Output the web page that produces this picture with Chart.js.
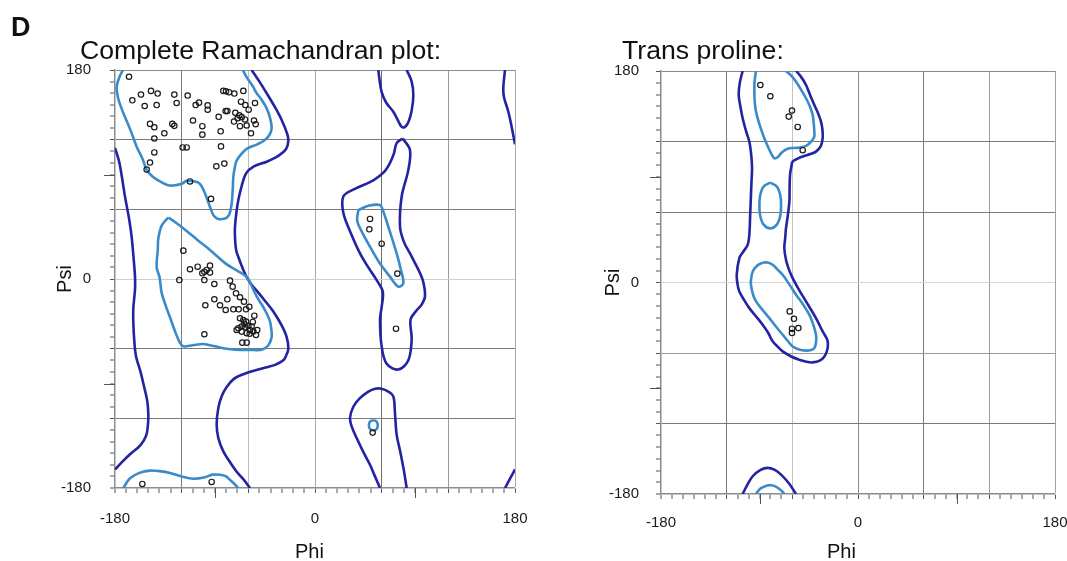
<!DOCTYPE html>
<html>
<head>
<meta charset="utf-8">
<script src="https://cdn.jsdelivr.net/npm/chart.js@4.4.0/dist/chart.umd.min.js"></script>
<style>
  html, body { margin: 0; padding: 0; background: #fff; }
  body { width: 1067px; height: 561px; position: relative; overflow: hidden;
         font-family: "Liberation Sans", Arial, sans-serif; color: #111; }
  canvas { position: absolute; left: 0; top: 0; }
  .lbl { position: absolute; white-space: nowrap; line-height: 1; }
  .panel { font-weight: bold; font-size: 27px; left: 11px; top: 14px; }
  .ttl { font-size: 25px; top: 38px; transform: scaleX(1.065); transform-origin: 0 0; }
  .phi { font-size: 20px; top: 541px; }
</style>
</head>
<body>
<canvas id="allChart" width="1067" height="561"></canvas>
<canvas id="proChart" width="1067" height="561"></canvas>
<div class="lbl panel">D</div>
<div class="lbl ttl" style="left:80px">Complete Ramachandran plot:</div>
<div class="lbl ttl" style="left:622px">Trans proline:</div>
<div class="lbl phi" style="left:295px">Phi</div>
<div class="lbl phi" style="left:827px">Phi</div>
<script>
// ── Data (phi, psi in degrees) ───────────────────────────────────────────────
const ANGLE_LABELS = [-180, 0, 180];
const LONG_TICKS = [-90, 90];

// residues of the complete plot
const allResidues = [
  // beta region
  [-167.4,174.2],[-164.4,153.9],[-156.6,158.8],[-153.3,149],[-147.6,162],[-142.5,149.8],[-141.6,159.7],
  [-148.5,133.6],[-144.6,130.7],[-135.6,125.5],[-128.4,133.6],[-126.6,131.9],[-144.6,121],[-126.6,158.8],
  [-124.5,151.6],[-114.6,158],[-107.4,149.8],[-104.4,151.9],[-96.6,149.5],[-96.6,145.8],[-109.8,136.5],
  [-101.4,131.6],[-101.4,124.3],[-119.1,113.3],[-115.5,113.3],[-144.6,109],[-148.5,100.3],[-151.5,94.2],
  [-112.5,84],[-93.6,69],[-86.7,139.7],[-84.9,127.2],[-84.6,114.2],[-88.8,97],[-81.6,99.4],[-82.5,162],
  [-80.1,161.7],[-77.4,160.9],[-72.6,159.7],[-64.5,162],[-66.6,152.7],[-62.7,149.8],[-59.7,145.8],
  [-54,151.6],[-80.4,144.6],[-78.9,144.6],[-71.7,143.2],[-68.1,140.9],[-66,139.4],[-63,137.4],
  [-72.9,135.6],[-67.5,131.6],[-61.5,132.2],[-54.9,136.5],[-53.4,133.3],[-57.6,125.5],[-69.6,138.5],
  // alpha region
  [-118.5,24.4],[-122.1,-0.9],[-112.5,8.4],[-105.6,10.6],[-101.4,4.9],[-99.6,6.3],[-97.5,7.8],
  [-94.5,11.5],[-94.5,5.5],[-99.6,-0.9],[-90.6,-4.3],[-76.5,-1.4],[-74.1,-6.6],[-71.1,-12.3],
  [-67.5,-15.7],[-63.9,-19.5],[-90.6,-17.5],[-78.9,-17.5],[-98.7,-22.6],[-85.5,-22.6],[-80.4,-26.7],
  [-73.5,-26.1],[-68.7,-26.1],[-62.1,-26.1],[-59.1,-23.9],[-54.6,-31.6],[-99.6,-47.6],[-65.4,-54.8],
  [-61.5,-54.8],[-67.5,-33.8],[-64.5,-35.3],[-62.1,-36.7],[-69,-42.4],[-66,-41],[-63,-41.6],
  [-60,-40.5],[-58.5,-43.9],[-55.5,-45.3],[-53.1,-48.2],[-66,-45.3],[-61.5,-46.7],[-57,-41],
  [-70.5,-43.9],[-63.6,-38.5],[-58.8,-47.2],[-56,-37],[-52,-44],
  // left-handed and others
  [49.5,51.7],[48.9,42.8],[60,30.4],[74.1,4.6],[72.9,-42.8],[51.9,-132.3],
  [-155.4,-176.5],[-93,-174.8],
];

// residues of the trans proline plot
const proResidues = [
  [-89.2,168.1],[-80.1,158.5],[-60.3,146.3],[-63.3,141.2],[-55.1,132.4],[-50.5,112.6],
  [-62.4,-24.6],[-58.5,-30.9],[-54.5,-38.8],[-60.3,-39.3],[-60.3,-43],
];

// outer (allowed) contours, complete plot
const allOuter = [
  [[-180,113],[-176,100],[-171,71],[-167,50],[-165,36],[-163,15],[-162,2],[-162,-9],[-163.5,-25],
   [-163.5,-38],[-162.5,-55],[-161,-67],[-157,-80],[-154.5,-90],[-151,-105],[-150,-117],[-150.5,-127],
   [-152,-135],[-157,-143],[-166.5,-151],[-174,-158],[-180,-164]],
  [[-57,180],[-50,170],[-43.5,160],[-36,148],[-30,137],[-25,125],[-24,119],[-26,112],[-33,106],
   [-43.5,101],[-55,97],[-62,91],[-66,80],[-69,68],[-70.5,59],[-72,45],[-72,36],[-71,25],[-69,19],
   [-65,9],[-61.5,1.6],[-57,-5],[-52.5,-10],[-44,-20],[-37.5,-28],[-30,-40],[-25.5,-50],[-24,-60],
   [-26,-66],[-28.5,-70],[-36,-74],[-43.5,-76],[-55,-79],[-64.5,-82],[-73,-86],[-79.5,-93],[-84,-101],
   [-87,-111],[-88.5,-125],[-87,-137],[-82.5,-148.5],[-77,-157],[-70.5,-166],[-64,-173],[-58.5,-180]],
  [[171,180],[169.5,165],[170,157],[174,144],[177,131],[180,116]],
  [[171,-180],[175.5,-172],[180,-164]],
  [[79,121],[85.5,111],[84,94],[78,71],[76.5,45],[80,32],[85.5,22],[92,10],[97,-1],[99,-15],[96,-22],
   [91.5,-27],[86,-35],[87,-52],[84,-70],[75,-78],[64.5,-73],[60,-58],[58.5,-35],[60,-24],[61,-11],
   [55.5,-1],[48,10],[40.5,22],[32,40],[25.5,57],[25.5,71],[34.5,77],[52.5,85],[62,92],[67.5,100],
   [71,108],[73.5,117],[79,121]],
  [[57,180],[58,172],[60,161],[64,152],[70.5,144],[75,136],[78,131],[81,131],[84,135],[87,145],
   [88.5,158],[87,170],[82.5,180]],
  [[58.5,-180],[54,-170],[49.5,-160],[43,-148],[37.5,-137],[33,-127],[31.5,-119.5],[34.5,-110],
   [40,-103],[48,-97],[54,-94.5],[60,-94.5],[66,-97],[70.5,-101],[72,-116],[73.5,-134],[77,-150],
   [80,-165],[82.5,-180]],
];

// inner (favoured) contours, complete plot
const allInner = [
  [[-172.8,180],[-176,174],[-178.5,165],[-177,155],[-172.5,143],[-166,128],[-160.5,114],[-155,103],
   [-151.5,94],[-146,88],[-139.5,84],[-133,81],[-127.5,80.5],[-120,82],[-115.5,84.5],[-108,84],
   [-103.5,82],[-100,76],[-97.5,70],[-94.5,62],[-91.5,55],[-88,52],[-85,51.5],[-80,52.5],[-77,56],
   [-75,65],[-74,78],[-73.5,88],[-72,97],[-70.5,102],[-66,108],[-61.5,112],[-52,116],[-46,119],
   [-41,124],[-39,130],[-40.5,139],[-44,148],[-48.5,155],[-52.5,160],[-56,166],[-61,173],[-65,180]],
  [[-172.5,-180],[-166.5,-171.6],[-158,-167],[-148.5,-165],[-140,-165.5],[-130.5,-167],[-120,-170],
   [-109.5,-172],[-100,-171],[-92,-168.5],[-85.5,-168.6],[-80,-170],[-76.5,-173],[-72,-177],[-69,-180]],
  [[-132,53],[-138,46],[-141,35],[-141.5,25],[-142.5,10],[-140,2],[-139,-5],[-138,-12],[-134,-24],
   [-130.5,-33],[-126,-45],[-121.5,-55],[-118.5,-58],[-110,-57],[-100.5,-56],[-90,-58],[-79.5,-60],
   [-68,-61],[-58.5,-61],[-48,-61],[-42,-57],[-39,-50],[-39.5,-42],[-41,-35],[-46,-25],[-52.5,-15],
   [-57,-6],[-60,0],[-63,3],[-70.5,7.5],[-80,13],[-94.5,25],[-105,33],[-115,41],[-124.5,48],[-132,53]],
  [[39,59.4],[48,63],[58.5,63.7],[61,59.4],[66,45],[73.5,22],[77,9],[79.5,-3.7],[75,-6.6],[67.5,2],
   [58,14],[49.5,27.8],[42,41],[38,50],[39,59.4]],
  [[52.5,-121.5],[55.5,-122.8],[56.5,-126],[55.5,-129.2],[52.5,-130.5],[49.5,-129.2],[48.5,-126],
   [49.5,-122.8],[52.5,-121.5]],
];

// trans proline contours
const proOuter = [
  [[-105.4,180],[-108,170],[-109,159.6],[-107.5,150],[-105.4,139.8],[-102,128],[-99.3,119.9],
   [-97.5,108],[-96.8,97.2],[-97.3,86],[-97.8,74.6],[-98.5,58],[-99.3,40.6],[-100.8,32],[-105,26],
   [-108.4,20.7],[-110.8,6.6],[-110,-2],[-108.4,-7.6],[-104,-15],[-99.3,-21.8],[-93,-29],[-87.1,-36],
   [-82,-43],[-78,-50],[-73,-55],[-68.8,-58.6],[-61,-63],[-53.6,-65.7],[-47,-67.5],[-41.4,-68],
   [-35,-66.5],[-30.7,-62.9],[-28,-57],[-27.7,-50.1],[-29.5,-46],[-32.3,-41.6],[-38.4,-30.3],
   [-47.5,-16.1],[-54,-6],[-59.7,3.7],[-63.5,12],[-65.8,19.3],[-67.3,29.2],[-66.5,38],[-65.8,46.2],
   [-64,58],[-62.7,68.9],[-62.5,80],[-62.1,91.6],[-61,98],[-59.7,102.9],[-55,105.5],[-50.6,107.2],
   [-43,109.5],[-38.4,111.4],[-34,116],[-32.3,122.8],[-32.5,130],[-33.8,136.9],[-36.5,144],
   [-39.9,151.1],[-43.5,159],[-47.5,168.1],[-52,175],[-56.6,180]],
  [[-105.4,-180],[-101,-172],[-96.2,-164.9],[-89,-159.5],[-82.5,-157.8],[-76,-159.5],[-70.3,-163.5],
   [-63,-171],[-56.6,-180]],
];

const proInner = [
  [[-93.2,180],[-94.5,171],[-94.7,162.4],[-94.3,153],[-93.2,145.4],[-89.5,133],[-85.6,122.8],
   [-81,113],[-76.4,105.7],[-73,107],[-70.3,110],[-66,113],[-62.7,114.3],[-58,114.5],[-53.6,114.8],
   [-47,116.5],[-42.9,119.9],[-40,124],[-39.9,128.4],[-40.5,136],[-41.4,142.6],[-44,150],
   [-47.5,156.8],[-52,164],[-56.6,170.9],[-61,176],[-65.8,180]],
  [[-93.2,-180],[-90,-176],[-87.1,-174.3],[-83,-172.8],[-79.5,-172.5],[-75.5,-173.5],[-71.9,-175.7],
   [-69,-178],[-67.3,-180]],
  [[-80.2,85],[-74,81.5],[-71,74],[-70.3,65.5],[-71,57],[-74,49.5],[-80.2,46],[-86.4,49.5],
   [-89.4,57],[-90.1,65.5],[-89.4,74],[-86.4,81.5],[-80.2,85]],
  [[-87.1,17],[-92,14.5],[-96.2,9.4],[-97.8,2],[-97.8,-2],[-96,-10],[-93.2,-16.1],[-87,-23.5],
   [-81,-30.3],[-75,-37.5],[-68.8,-44.5],[-64,-50],[-59.7,-54.4],[-54,-57],[-47.5,-58],[-43,-57.5],
   [-39.9,-55.8],[-38.2,-50],[-38.4,-44.5],[-41,-35.5],[-44.5,-27.4],[-50,-19],[-56.6,-10.4],
   [-62.5,-2],[-68.8,6.6],[-73.5,11],[-78,15.1],[-82.5,17],[-87.1,17]],
];

// ── Styles ───────────────────────────────────────────────────────────────────
const FONT = '"Liberation Sans", Arial, sans-serif';
const DARK = '#2323a3';
const LIGHT = '#3b8bc9';

// grid lines only every 60 degrees, with the uneven greys of the original
const allShades = {
  x: { '-120': '#7a7a7a', '-60': '#bdbdbd', '0': '#a8a8a8', '60': '#6e6e6e', '120': '#9a9a9a', '180': '#a8a8a8' },
  y: { '180': '#8a8a8a', '120': '#7a7a7a', '60': '#7a7a7a', '0': '#cfcfcf', '-60': '#7a7a7a', '-120': '#7a7a7a' },
};
const proShades = {
  x: { '-120': '#7a7a7a', '-60': '#c4c4c4', '0': '#8a8a8a', '60': '#7a7a7a', '120': '#a0a0a0', '180': '#a0a0a0' },
  y: { '180': '#8a8a8a', '120': '#7a7a7a', '60': '#7a7a7a', '0': '#d6d6d6', '-60': '#9a9a9a', '-120': '#7a7a7a' },
};

const toXY = (pairs) => pairs.map(([x, y]) => ({ x, y }));

// ── Longer ticks at +/-90 ────────────────────────────────────────────────────
const longTicks = {
  id: 'longTicks',
  afterDraw(chart) {
    const { ctx, chartArea: a, scales: { x, y } } = chart;
    ctx.save();
    ctx.strokeStyle = '#555';
    ctx.lineWidth = 1;
    LONG_TICKS.forEach(v => {
      const px = Math.round(x.getPixelForValue(v)) + 0.5;
      ctx.beginPath(); ctx.moveTo(px, a.bottom); ctx.lineTo(px, a.bottom + 10); ctx.stroke();
      const py = Math.round(y.getPixelForValue(v)) + 0.5;
      ctx.beginPath(); ctx.moveTo(a.left - 11, py); ctx.lineTo(a.left, py); ctx.stroke();
    });
    ctx.restore();
  },
};

// ── Axis factory ─────────────────────────────────────────────────────────────
function axis(dir, box, shade) {
  const isX = dir === 'x';
  return {
    type: 'linear',
    position: isX ? 'bottom' : 'left',
    min: -180,
    max: 180,
    ticks: {
      stepSize: 10,
      maxTicksLimit: 100,
      autoSkip: false,
      maxRotation: 0,
      minRotation: 0,
      padding: isX ? box.xLabelPad : box.yLabelPad,
      font: { family: FONT, size: 15 },
      color: '#1a1a1a',
      callback: v => (ANGLE_LABELS.includes(v) ? String(v) : ''),
    },
    grid: {
      color: c => (c.tick && shade[c.tick.value]) || 'rgba(0,0,0,0)',
      lineWidth: c => (c.tick && shade[c.tick.value] ? 1 : 0),
      tickColor: '#555',
      tickWidth: 1,
      tickLength: 5,
    },
    border: { color: '#8c8c8c', width: 1.5 },
    title: isX
      ? { display: false }
      : { display: true, text: 'Psi', color: '#111', padding: 0,
          font: { family: FONT, size: 20, lineHeight: 1 } },
    afterFit: s => {
      if (isX) s.height = box.xHeight; else s.width = box.yWidth;
      s.paddingLeft = s.paddingRight = s.paddingTop = s.paddingBottom = 0;
    },
  };
}

function contour(seg, color) {
  return {
    data: toXY(seg),
    showLine: true,
    pointRadius: 0,
    borderColor: color,
    borderWidth: 2.6,
    tension: 0.35,
    fill: false,
  };
}

// ── Chart builder ────────────────────────────────────────────────────────────
function buildChart(id, residues, outer, inner, box, shades) {
  const datasets = [
    {
      data: toXY(residues),
      showLine: false,
      pointRadius: 2.7,
      pointBorderWidth: 1.2,
      pointBorderColor: '#1a1a1a',
      pointBackgroundColor: 'rgba(0,0,0,0)',
    },
    ...inner.map(seg => contour(seg, LIGHT)),
    ...outer.map(seg => contour(seg, DARK)),
  ];

  return new Chart(document.getElementById(id), {
    type: 'scatter',
    data: { datasets },
    options: {
      responsive: false,
      animation: false,
      devicePixelRatio: 1,
      layout: { padding: { left: box.padLeft, right: box.padRight, top: box.padTop, bottom: 0 } },
      plugins: { legend: { display: false }, tooltip: { enabled: false } },
      scales: { x: axis('x', box, shades.x), y: axis('y', box, shades.y) },
    },
    plugins: [longTicks],
  });
}

// ── Boot ─────────────────────────────────────────────────────────────────────
buildChart('allChart', allResidues, allOuter, allInner,
  { padLeft: 55, yWidth: 60, padRight: 552, padTop: 70, xHeight: 73, xLabelPad: 17, yLabelPad: 19 },
  allShades);

buildChart('proChart', proResidues, proOuter, proInner,
  { padLeft: 603, yWidth: 58, padRight: 12, padTop: 71, xHeight: 67, xLabelPad: 15, yLabelPad: 17 },
  proShades);
</script>
</body>
</html>
